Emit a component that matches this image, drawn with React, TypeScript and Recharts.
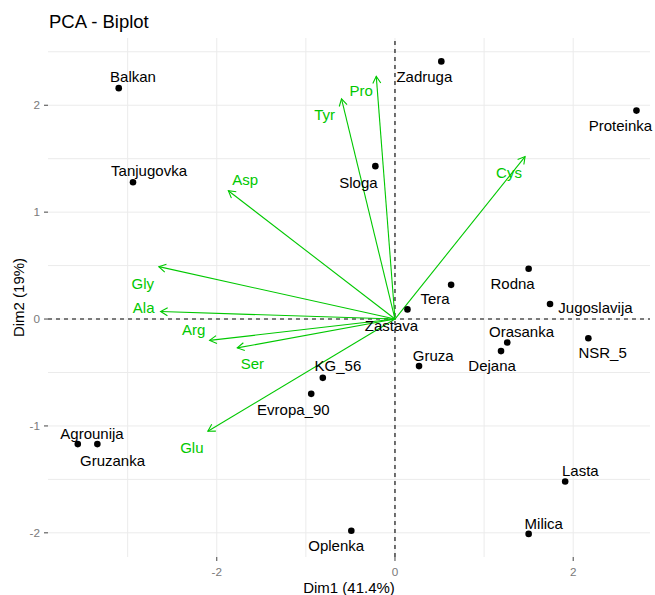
import React from "react";
import {
  ScatterChart,
  Scatter,
  XAxis,
  YAxis,
  CartesianGrid,
  ReferenceLine,
} from "recharts";

const cultivars = [
  "Balkan", "Tanjugovka", "Zadruga", "Proteinka", "Sloga", "Rodna", "Tera",
  "Zastava", "Jugoslavija", "Orasanka", "Dejana", "NSR_5", "Gruza", "Lasta",
  "Milica", "Oplenka", "KG_56", "Evropa_90", "Agrounija", "Gruzanka",
];
const dim1 = [-3.1, -2.94, 0.52, 2.71, -0.22, 1.5, 0.63, 0.14, 1.74, 1.26, 1.19, 2.17, 0.27, 1.91, 1.5, -0.49, -0.81, -0.94, -3.56, -3.34];
const dim2 = [2.16, 1.28, 2.41, 1.95, 1.43, 0.47, 0.32, 0.09, 0.14, -0.22, -0.3, -0.18, -0.44, -1.52, -2.01, -1.98, -0.55, -0.7, -1.17, -1.17];
// where ggrepel put the cultivar labels
const labelDim1 = [-2.94, -2.76, 0.33, 2.53, -0.41, 1.32, 0.45, -0.04, 2.25, 1.42, 1.09, 2.33, 0.43, 2.08, 1.67, -0.66, -0.64, -1.14, -3.4, -3.17];
const labelDim2 = [2.27, 1.39, 2.27, 1.81, 1.28, 0.33, 0.19, -0.06, 0.11, -0.12, -0.44, -0.31, -0.34, -1.42, -1.91, -2.12, -0.44, -0.85, -1.07, -1.32];

const variables = ["Pro", "Tyr", "Cys", "Asp", "Gly", "Ala", "Arg", "Ser", "Glu"];
const varDim1 = [-0.21, -0.6, 1.46, -1.87, -2.65, -2.63, -2.08, -1.77, -2.1];
const varDim2 = [2.27, 2.06, 1.52, 1.2, 0.49, 0.07, -0.2, -0.27, -1.05];
const varLabelDim1 = [-0.38, -0.79, 1.28, -1.68, -2.83, -2.82, -2.26, -1.6, -2.28];
const varLabelDim2 = [2.14, 1.91, 1.37, 1.3, 0.33, 0.11, -0.1, -0.42, -1.2];

const xTicks = [-2, 0, 2];
const yTicks = [-2, -1, 0, 1, 2];
const xGrid = [-3, -2, -1, 0, 1, 2];
const yGrid = [-2, -1.5, -1, -0.5, 0, 0.5, 1, 1.5, 2, 2.5];

const FONT = "'Liberation Sans', Arial, sans-serif";
const GREEN = "#00C800";

const points = cultivars.map((name, i) => ({ name, x: dim1[i], y: dim2[i] }));
const pointLabels = cultivars.map((name, i) => ({ name, x: labelDim1[i], y: labelDim2[i] }));
const varLabels = variables.map((name, i) => ({ name, x: varLabelDim1[i], y: varLabelDim2[i] }));

function Dot(props: any) {
  const { cx, cy } = props;
  return <circle cx={cx} cy={cy} r={3.3} fill="#000" />;
}

function makeLabel(color: string) {
  return (props: any) => (
    <text
      x={props.cx}
      y={props.cy}
      dy="0.36em"
      textAnchor="middle"
      fill={color}
      fontSize={15}
      fontFamily={FONT}
    >
      {props.payload.name}
    </text>
  );
}

function Arrow(props: any) {
  const { x1, y1, x2, y2 } = props;
  const a = Math.atan2(y2 - y1, x2 - x1);
  const len = 8;
  const spread = Math.PI / 6;
  const ax = x2 - len * Math.cos(a - spread);
  const ay = y2 - len * Math.sin(a - spread);
  const bx = x2 - len * Math.cos(a + spread);
  const by = y2 - len * Math.sin(a + spread);
  return (
    <g stroke={GREEN} strokeWidth={1.1} fill="none">
      <line x1={x1} y1={y1} x2={x2} y2={y2} />
      <polyline points={`${ax},${ay} ${x2},${y2} ${bx},${by}`} />
    </g>
  );
}

export default function App() {
  return (
    <div style={{ position: "absolute", left: 0, top: 0, width: 655, height: 595, background: "#fff", fontFamily: FONT }}>
      <div style={{ position: "absolute", left: 49, top: 11, fontSize: 18.5, color: "#000", lineHeight: "normal" }}>
        PCA - Biplot
      </div>
      <ScatterChart width={655} height={595} margin={{ top: 38, right: 5, bottom: 0, left: 0 }}>
        <CartesianGrid
          stroke="#EBEBEB"
          strokeWidth={1}
          verticalValues={xGrid}
          horizontalValues={yGrid}
        />
        <XAxis
          type="number"
          dataKey="x"
          domain={[-3.894, 2.862]}
          ticks={xTicks}
          axisLine={false}
          tickSize={4}
          tickMargin={7}
          tickLine={{ stroke: "#444" }}
          tick={{ fill: "#7a7a7a", fontSize: 11.7, fontFamily: FONT }}
          height={38}
          label={{ value: "Dim1 (41.4%)", position: "insideBottom", offset: 2.5, fill: "#000", fontSize: 15, fontFamily: FONT }}
        />
        <YAxis
          type="number"
          dataKey="y"
          domain={[-2.226, 2.629]}
          ticks={yTicks}
          axisLine={false}
          tickSize={4}
          tickMargin={4}
          tickLine={{ stroke: "#444" }}
          tick={{ fill: "#7a7a7a", fontSize: 11.7, fontFamily: FONT }}
          width={48}
          label={{
            value: "Dim2 (19%)",
            angle: -90,
            position: "insideLeft",
            offset: 18.5,
            fill: "#000",
            fontSize: 15,
            fontFamily: FONT,
            style: { textAnchor: "middle" },
          }}
        />
        <ReferenceLine x={0} stroke="#000" strokeWidth={1.1} strokeDasharray="4 4" />
        <ReferenceLine y={0} stroke="#000" strokeWidth={1.1} strokeDasharray="4 4" />
        {variables.map((v, i) => (
          <ReferenceLine
            key={v}
            segment={[{ x: 0, y: 0 }, { x: varDim1[i], y: varDim2[i] }]}
            shape={Arrow}
          />
        ))}
        <Scatter data={points} shape={Dot} isAnimationActive={false} />
        <Scatter data={pointLabels} shape={makeLabel("#000")} isAnimationActive={false} />
        <Scatter data={varLabels} shape={makeLabel(GREEN)} isAnimationActive={false} />
      </ScatterChart>
    </div>
  );
}
